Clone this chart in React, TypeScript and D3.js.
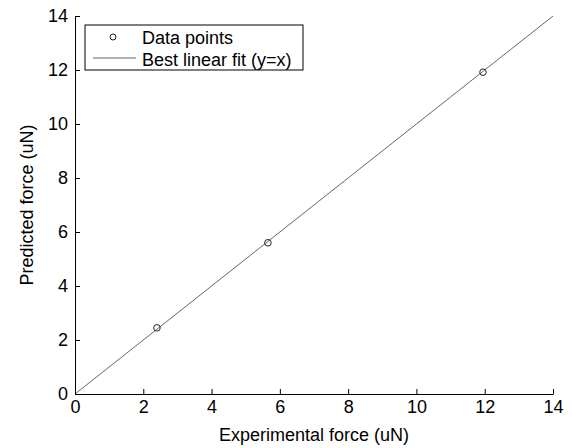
import { useEffect, useRef } from "react";
import * as d3 from "d3";

// measured vs predicted force (uN)
const experimental = [2.4, 5.65, 11.95];
const predicted = [2.45, 5.6, 11.92];
const fitLine = [0, 14];
const tickValues = [0, 2, 4, 6, 8, 10, 12, 14];

const width = 572;
const height = 448;
const margin = { top: 16, right: 19, bottom: 54, left: 75 };

export default function App() {
  const ref = useRef<SVGSVGElement>(null);

  useEffect(() => {
    const svg = d3.select(ref.current);
    svg.selectAll("*").remove();

    const x = d3.scaleLinear().domain([0, 14]).range([margin.left, width - margin.right]);
    const y = d3.scaleLinear().domain([0, 14]).range([height - margin.bottom, margin.top]);

    const font = "'Liberation Sans', Arial, sans-serif";
    const fs = 18;

    // fit line y = x
    svg.append("path")
      .datum(fitLine)
      .attr("d", d3.line<number>().x(d => x(d)).y(d => y(d)))
      .attr("stroke", "#666")
      .attr("stroke-width", 1)
      .attr("fill", "none");

    // axes, ticks pointing inward
    const xAxis = svg.append("g")
      .attr("transform", `translate(0,${y(0)})`)
      .call(d3.axisBottom(x).tickValues(tickValues).tickSizeInner(-5).tickSizeOuter(0).tickPadding(6));
    const yAxis = svg.append("g")
      .attr("transform", `translate(${x(0)},0)`)
      .call(d3.axisLeft(y).tickValues(tickValues).tickSizeInner(-5).tickSizeOuter(0).tickPadding(7));

    [xAxis, yAxis].forEach(a => {
      a.selectAll("text").attr("font-family", font).attr("font-size", fs).attr("fill", "#000");
      a.selectAll("line").attr("stroke", "#000");
      a.select(".domain").attr("stroke", "#000");
    });

    // data points
    svg.selectAll("circle.pt")
      .data(experimental)
      .join("circle")
      .attr("class", "pt")
      .attr("cx", d => x(d))
      .attr("cy", (d, i) => y(predicted[i]))
      .attr("r", 3.3)
      .attr("fill", "none")
      .attr("stroke", "#222")
      .attr("stroke-width", 1);

    // axis titles
    svg.append("text")
      .attr("x", (x(0) + x(14)) / 2)
      .attr("y", 441)
      .attr("text-anchor", "middle")
      .attr("font-family", font)
      .attr("font-size", fs)
      .text("Experimental force (uN)");

    svg.append("text")
      .attr("transform", `translate(33,${(y(0) + y(14)) / 2}) rotate(-90)`)
      .attr("text-anchor", "middle")
      .attr("font-family", font)
      .attr("font-size", fs)
      .text("Predicted force (uN)");

    // legend
    const lg = svg.append("g").attr("transform", "translate(85,25)");
    lg.append("rect")
      .attr("width", 218)
      .attr("height", 45)
      .attr("fill", "#fff")
      .attr("stroke", "#000");
    lg.append("circle")
      .attr("cx", 28).attr("cy", 12).attr("r", 3)
      .attr("fill", "none").attr("stroke", "#222");
    lg.append("line")
      .attr("x1", 8).attr("x2", 51).attr("y1", 33).attr("y2", 33)
      .attr("stroke", "#666");
    lg.append("text")
      .attr("x", 57).attr("y", 19)
      .attr("font-family", font).attr("font-size", fs)
      .text("Data points");
    lg.append("text")
      .attr("x", 57).attr("y", 41)
      .attr("font-family", font).attr("font-size", fs)
      .text("Best linear fit (y=x)");
  }, []);

  return (
    <svg ref={ref} width={width} height={height}
      style={{ position: "absolute", left: 0, top: 0, background: "#fff" }} />
  );
}
